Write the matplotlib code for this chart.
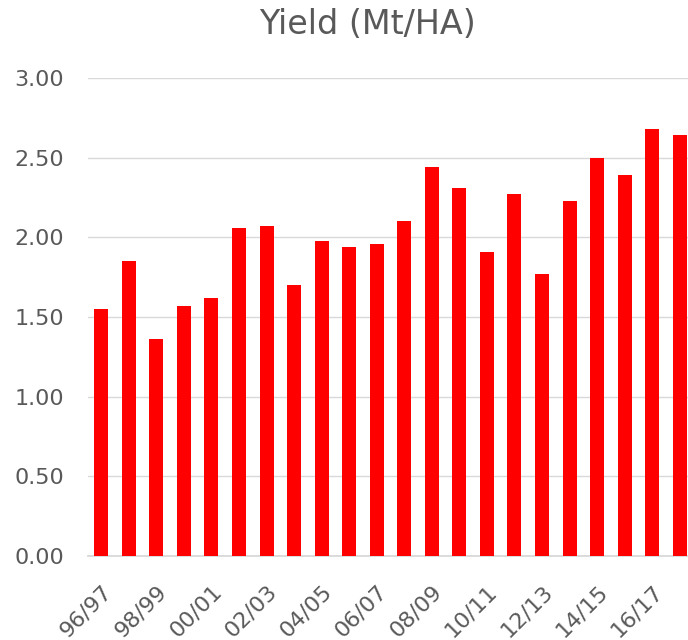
import numpy as np
import matplotlib.pyplot as plt

plt.rcParams['font.family'] = ['DejaVu Sans']

seasons = ['96/97', '97/98', '98/99', '99/00', '00/01', '01/02', '02/03', '03/04',
           '04/05', '05/06', '06/07', '07/08', '08/09', '09/10', '10/11', '11/12',
           '12/13', '13/14', '14/15', '15/16', '16/17', '17/18']
yield_mt_ha = [1.55, 1.85, 1.36, 1.57, 1.62, 2.06, 2.07, 1.70, 1.98, 1.94, 1.96,
               2.10, 2.44, 2.31, 1.91, 2.27, 1.77, 2.23, 2.50, 2.39, 2.68, 2.64]
yticks = [0.0, 0.5, 1.0, 1.5, 2.0, 2.5, 3.0]

grey = '#595959'
gridc = '#d9d9d9'

fig = plt.figure(figsize=(6.88, 6.4), dpi=100)
# plot area runs a little past the right edge, as in the original crop
ax = fig.add_axes([0.1272, 0.13125, 0.8808, 0.7469])

x = np.arange(len(seasons))
ax.bar(x, yield_mt_ha, width=0.51, color='#ff0000', zorder=3)

ax.set_xlim(-0.5, len(seasons) - 0.5)
ax.set_ylim(0, 3.0)
ax.set_yticks(yticks)
ax.set_yticklabels([f'{v:.2f}' for v in yticks])
ax.yaxis.grid(True, color=gridc, linewidth=1.0, zorder=0)
ax.set_axisbelow(True)

ax.set_xticks(x[::2])
ax.set_xticklabels(seasons[::2], rotation=45, ha='right', rotation_mode='anchor')

for s in ['top', 'right', 'left']:
    ax.spines[s].set_visible(False)
ax.spines['bottom'].set_color(gridc)
ax.spines['bottom'].set_linewidth(1.3)

ax.tick_params(axis='both', length=0, colors=grey, labelsize=16)
ax.tick_params(axis='y', pad=17)
ax.tick_params(axis='x', pad=18)

fig.text(0.534, 0.962, 'Yield (Mt/HA)', ha='center', va='center',
         fontsize=24, color=grey)

fig.savefig('out.png', dpi=100)
